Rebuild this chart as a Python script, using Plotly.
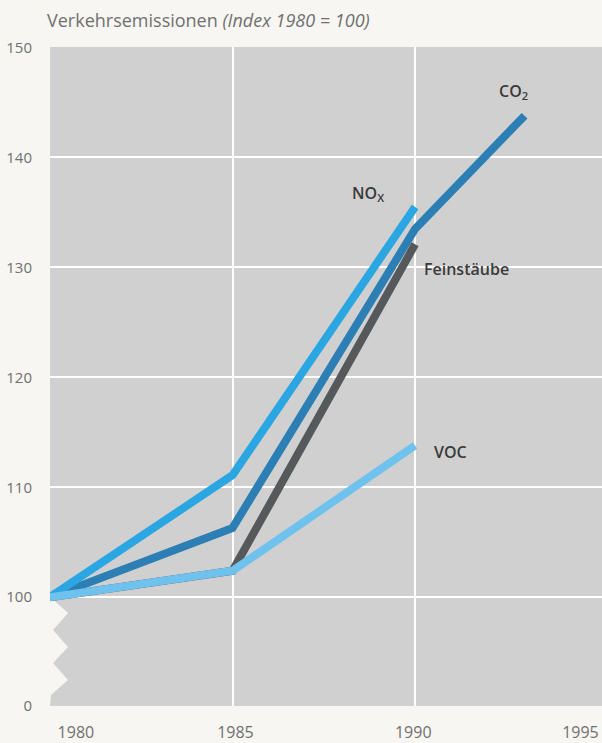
import plotly.graph_objects as go

years = [1980, 1985, 1990]
co2_years = [1980, 1985, 1990, 1993]

co2 = [100, 106.3, 133.5, 143.8]
nox = [100, 111.1, 135.5]
feinstaeube = [100, 102.4, 132.1]
voc = [100, 102.4, 113.8]

x_labels = ["1980", "1985", "1990", "1995"]
# where the year labels sit (printed slightly off the grid lines)
x_label_pos = [1980.71, 1985.08, 1989.95, 1994.53]
x_grid = [1985, 1990]
y_ticks = [90.15, 100, 110, 120, 130, 140, 150]
y_labels = ["0", "100", "110", "120", "130", "140", "150"]

BG = "#f7f6f2"
GREY = "#d0d0d0"
TXT = "#707070"

fig = go.Figure()

series = [
    ("Feinstäube", years, feinstaeube, "#55595c"),
    ("CO2", co2_years, co2, "#2b7fb4"),
    ("NOx", years, nox, "#2aa6e2"),
    ("VOC", years, voc, "#6fc2ee"),
]

for name, xs, ys, color in series:
    fig.add_trace(
        go.Scatter(
            x=xs,
            y=ys,
            mode="lines",
            name=name,
            line=dict(color=color, width=8),
            showlegend=False,
            hoverinfo="skip"
        )
    )

# labels at the line ends
labels = [
    ("CO<sub>2</sub>", 1992.7, 146.0),
    ("NO<sub>X</sub>", 1988.7, 136.7),
    ("Feinstäube", 1991.4, 129.9),
    ("VOC", 1990.96, 113.2),
]
for text, lx, ly in labels:
    fig.add_annotation(
        x=lx, y=ly, text=text, showarrow=False,
        font=dict(family="Open Sans", size=16, color="#3a3a3a", weight=600),
        xanchor="center", yanchor="middle"
    )

# broken axis zigzag below 100 (pixel rows of the reference -> plot fraction)
TOP, BOTTOM = 47, 706
plot_h = BOTTOM - TOP


def py(pix):
    return (BOTTOM - pix) / plot_h


fig.add_shape(
    type="path",
    xref="paper", yref="paper",
    path=("M 0 {a} L 0.0327 {b} L 0.0055 {c} L 0.0327 {d} "
          "L 0.0055 {e} L 0.0327 {f} L 0.0018 {g} L 0 {h} Z").format(
        a=py(597), b=py(613), c=py(630), d=py(647),
        e=py(663), f=py(680), g=py(695), h=py(706)),
    fillcolor=BG, line=dict(width=0), layer="below"
)

fig.update_layout(
    width=602,
    height=743,
    margin=dict(l=50, r=0, t=TOP, b=743 - BOTTOM),
    paper_bgcolor=BG,
    plot_bgcolor=GREY,
    font=dict(family="Open Sans", color=TXT, size=15),
    title=dict(
        text="Verkehrsemissionen <i>(Index 1980 = 100)</i>",
        x=47 / 602, xanchor="left",
        y=1 - 21 / 743, yanchor="middle",
        font=dict(family="Open Sans", size=18, color=TXT)
    ),
    xaxis=dict(
        range=[1980, 1995.12],
        tickvals=x_label_pos,
        ticktext=x_labels,
        ticks="outside", ticklen=12, tickcolor=BG,
        showgrid=False,
        minor=dict(tickvals=x_grid, showgrid=True, gridcolor="white",
                   gridwidth=2, ticks=""),
        zeroline=False, showline=False, automargin=False,
        tickfont=dict(size=16, color=TXT)
    ),
    yaxis=dict(
        range=[90.1, 150.05],
        tickvals=y_ticks,
        ticktext=y_labels,
        ticks="outside", ticklen=14, tickcolor=BG,
        showgrid=True, gridcolor="white", gridwidth=2,
        zeroline=False, showline=False, automargin=False,
        tickfont=dict(size=15, color=TXT)
    )
)

fig.write_html("out.html", config={"displayModeBar": False})

# drop the default page margin so the figure fills the window
with open("out.html", encoding="utf-8") as f:
    html = f.read()
html = html.replace("<body>", '<body style="margin:0;background:%s">' % BG, 1)
with open("out.html", "w", encoding="utf-8") as f:
    f.write(html)
